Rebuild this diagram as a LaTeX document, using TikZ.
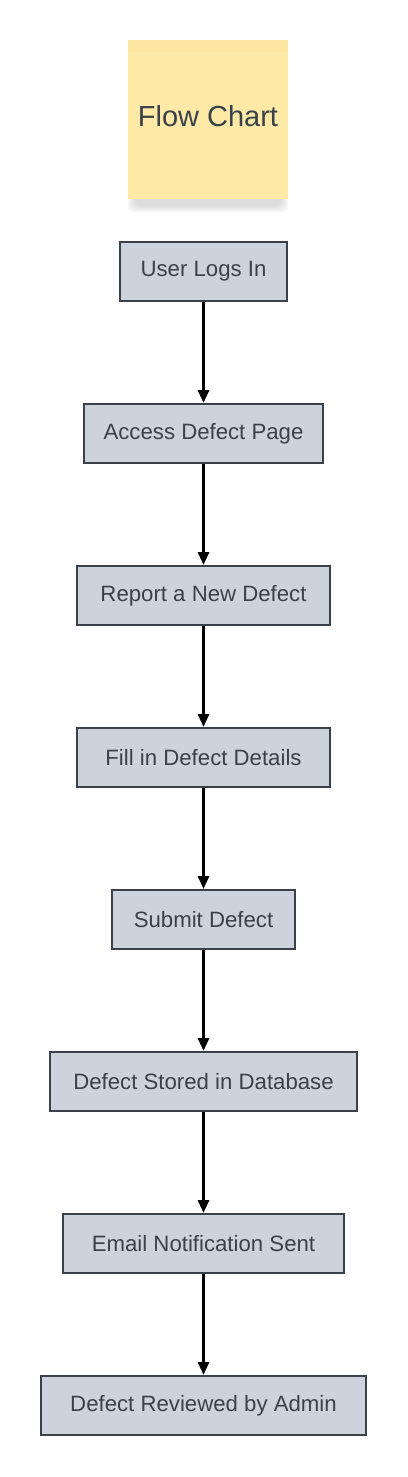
\documentclass[tikz,border=0pt]{standalone}
\usepackage{fontspec}
\setmainfont{Liberation Sans}
\usetikzlibrary{arrows.meta,positioning}
\definecolor{FcSlate}{RGB}{58,65,74}
\definecolor{FcBoxFill}{RGB}{205,211,220}
\definecolor{FcNote}{RGB}{254,233,166}
\definecolor{FcNoteTop}{RGB}{250,226,156}
\definecolor{FcShadow}{RGB}{120,120,120}
\tikzset{
  fc/step/.style={
    draw=FcSlate,
    line width=2pt,
    fill=FcBoxFill,
    align=center,
    text=FcSlate,
    minimum height=59pt,
    inner xsep=4pt,
    font=\fontsize{22.2}{26}\selectfont
  },
  fc/note/.style={
    fill=FcNote,
    align=center,
    text=FcSlate,
    minimum width=160pt,
    minimum height=159pt,
    font=\fontsize{29}{34}\selectfont
  },
  fc/arrow/.style={-{Triangle[length=13pt,width=11pt]}, line width=3pt, draw=black}
}
\begin{document}
\begin{tikzpicture}[x=1pt,y=-1pt]
  \useasboundingbox (0,0) rectangle (407,1477);
  % shadow under the note
  \foreach \s in {0,2,4,6}{
    \fill[FcShadow,opacity=0.07,rounded corners=6pt] (134-\s,190) rectangle (282+\s,206+\s);
  }
  \node[fc/note] (title) at (208,119.5) {};
  \fill[FcNoteTop,opacity=0.4] (title.north west) rectangle ([yshift=-12pt]title.north east);
  \node[fc/note,fill=none] (titletext) at (208,116.5) {Flow Chart};
  \node[fc/step,minimum width=167pt] (login) at (203.5,271.5) {User Logs In};
  \node[fc/step,minimum width=239pt] (access) at (203.5,433.5) {Access Defect Page};
  \node[fc/step,minimum width=253pt] (report) at (203.5,595.5) {Report a New Defect};
  \node[fc/step,minimum width=253pt] (fill) at (203.5,757.5) {Fill in Defect Details};
  \node[fc/step,minimum width=183pt] (submit) at (203.5,919.5) {Submit Defect};
  \node[fc/step,minimum width=307pt] (stored) at (203.5,1081.5) {Defect Stored in Database};
  \node[fc/step,minimum width=281pt] (email) at (203.5,1243.5) {Email Notification Sent};
  \node[fc/step,minimum width=325pt] (review) at (203.5,1405.5) {Defect Reviewed by Admin};
  \foreach \a/\b in {login/access,access/report,report/fill,fill/submit,submit/stored,stored/email,email/review}{
    \draw[fc/arrow] (\a) -- (\b);
  }
\end{tikzpicture}
\end{document}
